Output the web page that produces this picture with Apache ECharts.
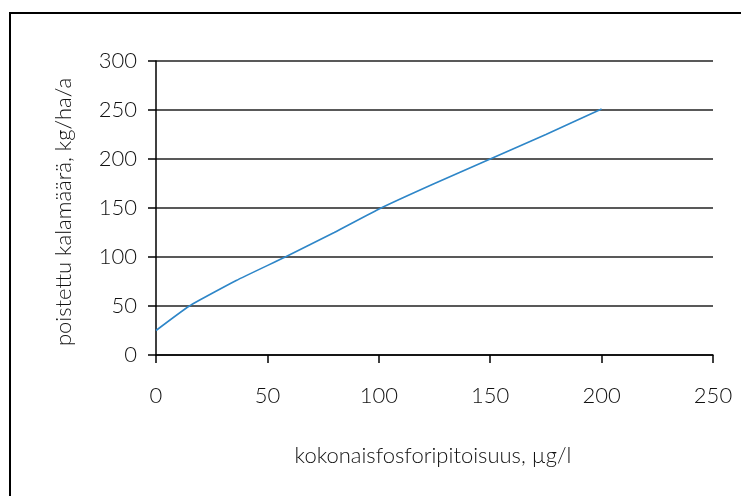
<!DOCTYPE html>
<html>
<head>
<meta charset="utf-8">
<script src="https://cdn.jsdelivr.net/npm/echarts@6/dist/echarts.min.js"></script>
<style>
  html, body { margin: 0; padding: 0; background: #fff; }
  #chart { width: 741px; height: 496px; }
</style>
</head>
<body>
<div id="chart"></div>
<script>
// Total phosphorus concentration (µg/l) and the corresponding fish removal (kg/ha/a)
const phosphorus = [0, 15, 36, 58, 80, 101, 125, 150, 175, 200];
const fishRemoved = [25, 50, 76, 100, 125, 150, 175, 200, 225, 251];

const xTicks = { min: 0, max: 250, interval: 50 };
const yTicks = { min: 0, max: 300, interval: 50 };

const xTitle = 'kokonaisfosforipitoisuus, µg/l';
const yTitle = 'poistettu kalamäärä, kg/ha/a';

const FONT = 'Lato';
const chart = echarts.init(document.getElementById('chart'), null, { renderer: 'canvas' });

chart.setOption({
  animation: false,
  backgroundColor: '#ffffff',
  grid: { left: 156, right: 28, top: 61, bottom: 141, containLabel: false },
  graphic: [
    {
      type: 'rect',
      shape: { x: 10, y: 13, width: 780, height: 540 },
      style: { fill: 'none', stroke: '#000', lineWidth: 2 },
      silent: true
    },
    {
      type: 'text',
      x: 433, y: 456,
      style: { text: xTitle, font: '300 22px ' + FONT, fill: '#111', align: 'center', verticalAlign: 'middle' }
    },
    {
      type: 'text',
      x: 64, y: 212,
      rotation: Math.PI / 2,
      style: { text: yTitle, font: '300 22px ' + FONT, fill: '#111', align: 'center', verticalAlign: 'middle' }
    }
  ],
  xAxis: {
    type: 'value',
    min: xTicks.min, max: xTicks.max, interval: xTicks.interval,
    axisLine: { show: true, lineStyle: { color: '#000', width: 1.5 } },
    axisTick: { show: true, inside: false, length: 8, lineStyle: { color: '#000', width: 1.5 } },
    axisLabel: { margin: 30, fontFamily: FONT, fontWeight: 300, fontSize: 22, color: '#111' },
    splitLine: { show: false }
  },
  yAxis: {
    type: 'value',
    min: yTicks.min, max: yTicks.max, interval: yTicks.interval,
    axisLine: { show: true, lineStyle: { color: '#000', width: 1.5 } },
    axisTick: { show: true, inside: false, length: 8, lineStyle: { color: '#000', width: 1.5 } },
    axisLabel: { margin: 19, fontFamily: FONT, fontWeight: 300, fontSize: 22, color: '#111' },
    splitLine: { show: true, lineStyle: { color: '#222', width: 1.5 } }
  },
  series: [{
    type: 'line',
    data: phosphorus.map((p, i) => [p, fishRemoved[i]]),
    showSymbol: false,
    smooth: 0.15,
    lineStyle: { color: '#2e86c8', width: 1.6 }
  }]
});
</script>
</body>
</html>
